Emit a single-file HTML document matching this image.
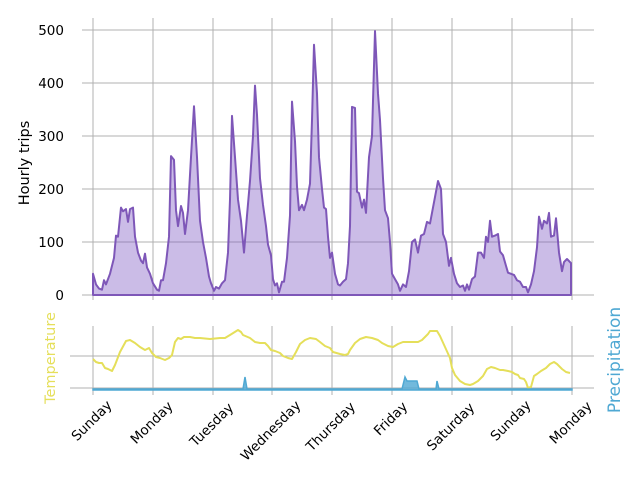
<!DOCTYPE html>
<html><head><style>body{margin:0;background:#fff}</style></head><body>
<svg width="640" height="480" xmlns="http://www.w3.org/2000/svg" font-family="DejaVu Sans, Liberation Sans, sans-serif">
<g stroke="#b0b0b0" stroke-width="1">
<line x1="82" y1="30" x2="594" y2="30"/><line x1="82" y1="83" x2="594" y2="83"/><line x1="82" y1="136" x2="594" y2="136"/><line x1="82" y1="189" x2="594" y2="189"/><line x1="82" y1="242" x2="594" y2="242"/><line x1="82" y1="295" x2="594" y2="295"/>
<line x1="93" y1="18" x2="93" y2="300"/><line x1="153" y1="18" x2="153" y2="300"/><line x1="213" y1="18" x2="213" y2="300"/><line x1="272" y1="18" x2="272" y2="300"/><line x1="332" y1="18" x2="332" y2="300"/><line x1="392" y1="18" x2="392" y2="300"/><line x1="452" y1="18" x2="452" y2="300"/><line x1="512" y1="18" x2="512" y2="300"/><line x1="572" y1="18" x2="572" y2="300"/>
<line x1="70" y1="356" x2="594" y2="356"/><line x1="70" y1="388" x2="594" y2="388"/>
<line x1="93" y1="326" x2="93" y2="395"/><line x1="153" y1="326" x2="153" y2="395"/><line x1="213" y1="326" x2="213" y2="395"/><line x1="272" y1="326" x2="272" y2="395"/><line x1="332" y1="326" x2="332" y2="395"/><line x1="392" y1="326" x2="392" y2="395"/><line x1="452" y1="326" x2="452" y2="395"/><line x1="512" y1="326" x2="512" y2="395"/><line x1="572" y1="326" x2="572" y2="395"/>
</g>
<g font-size="13.5" text-anchor="end" fill="#000">
<text x="64" y="35">500</text><text x="64" y="88">400</text><text x="64" y="141">300</text><text x="64" y="194">200</text><text x="64" y="247">100</text><text x="64" y="300">0</text>
</g>
<text transform="translate(29,163) rotate(-90)" font-size="14.5" text-anchor="middle">Hourly trips</text>
<text transform="translate(55,358) rotate(-90)" font-size="14.5" text-anchor="middle" fill="#e5df5a">Temperature</text>
<text transform="translate(620,360) rotate(-90)" font-size="17" text-anchor="middle" fill="#4fa8d3">Precipitation</text>
<g fill="rgba(126,87,194,0.4)" stroke="#7e57b8" stroke-width="2" stroke-linejoin="round">
<path d="M93,295 L93,273.8 96,284.4 99,288.6 102,289.7 104,280.2 106,284.4 110,273.8 114,257.9 116,235.6 118,236.7 121,207.6 123,211.3 126,209.1 128,221.9 130,209.1 133,207.6 135,236.7 138,252.6 141,260.6 143,263.2 145,253.7 147,267.4 150,273.8 153,283.3 157,289.7 159,290.8 161,280.2 163,280.2 166,263.2 169,236.7 171,156.1 174,159.9 176,210.2 178,226.1 181,206 183,212.9 185,234 188,210.2 191,157.2 194,106.3 197,157.2 200,220.8 203,242 206,257.9 209,276.5 211,283.3 214,290.8 216,287 219,288.6 222,283.3 225,280.2 228,252.6 230,199.6 232,115.9 235,157.2 238,199.6 241,220.8 244,252.6 247,215.5 250,181 253,136 255,85.6 257,114.8 260,178.4 263,204.9 266,226.1 268,244.6 271,255.3 273,279.1 275,285.5 277,283.3 279,292.4 282,281.8 284,281.8 287,257.9 290,215.5 292,101.6 295,141.3 297,186.4 299,210.2 302,204.9 304,210.2 307,199.6 310,183.7 312,120.1 314,44.8 317,93.6 319,157.2 322,189 324,207.6 326,209.1 328,236.7 330,257.9 332,252.6 335,273.8 338,284.4 340,285.5 343,281.8 346,279.1 348,263.2 350,226.1 352,106.9 355,107.9 357,191.7 359,193.2 362,207.6 364,199.6 366,212.9 369,157.2 372,136 375,31.1 378,93.6 380,120.1 383,178.4 385,210.2 388,218.2 390,242 392,273.8 395,279.1 398,284.4 400,290.8 403,284.4 406,287 409,271.2 412,242 415,239.4 418,252.6 421,235.6 424,234 427,221.9 430,223.5 433,207.6 436,191.7 438,181 441,189 443,234 446,242 449,265.9 451,257.9 454,273.8 457,283.3 460,287 463,285.5 465,290.8 467,284.4 469,289.7 472,279.1 475,276.5 478,252.6 481,252.6 484,257.9 486,236.7 488,242 490,220.8 492,236.7 495,235.6 498,234 500,251.5 503,255.3 506,265.9 508,272.7 511,273.8 514,274.9 517,280.2 520,281.8 523,287 526,287 528,292.4 531,284.4 534,271.2 537,247.3 539,216.6 542,228.8 544,220.8 547,223.5 549,212.9 551,236.7 554,235.6 556,218.2 559,252.6 562,271.2 564,262.1 567,259 570,262.1 571,263.2 L571,295 Z"/>
</g>
<polyline fill="none" stroke="#e5df5a" stroke-width="2" stroke-linejoin="round" points="93,359 96,362 99,363 102,363 105,368 108,369 112,371 115,365 120,352 126,341 130,340 135,343 140,347 145,350 149,348 152,353 156,357 160,358 165,360 169,358 172,355 175,342 178,338 181,339 184,337 190,337 195,338 200,338 210,339 220,338 225,338 230,335 238,330 241,332 243,335 250,338 255,342 260,343 265,343 268,346 271,350 275,351 280,353 283,356 288,358 292,359 296,352 300,344 305,340 310,338 316,339 320,342 325,346 330,348 333,352 340,354 345,355 348,354 350,350 355,343 360,339 366,337 372,338 378,340 382,343 388,346 393,347 398,344 403,342 408,342 413,342 418,342 422,340 428,334 430,331 437,331 440,336 445,347 450,358 452,368 455,375 460,381 465,384 470,385 473,384 478,381 483,376 487,369 491,367 495,368 500,370 503,370 508,371 512,372 515,374 518,375 520,378 524,379 526,382 528,388 531,387 534,376 537,374 541,371 546,368 550,364 554,362 557,364 562,369 566,372 570,373"/>
<path fill="rgba(79,168,211,0.8)" stroke="#4fa8d3" stroke-width="1.5" d="M93,389 L243,389 245,377 247,389 L402,389 405,377 407,381 417,381 419,389 L436,389 437,381 439,389 L572,389 572,390 93,390 Z"/>
<g font-size="13.5" text-anchor="middle" dominant-baseline="central">
<text transform="translate(92,421) rotate(-45)">Sunday</text>
<text transform="translate(152,423) rotate(-45)">Monday</text>
<text transform="translate(212,425) rotate(-45)">Tuesday</text>
<text transform="translate(271,431) rotate(-45)">Wednesday</text>
<text transform="translate(331,427) rotate(-45)">Thursday</text>
<text transform="translate(391,419) rotate(-45)">Friday</text>
<text transform="translate(451,427) rotate(-45)">Saturday</text>
<text transform="translate(511,421) rotate(-45)">Sunday</text>
<text transform="translate(571,423) rotate(-45)">Monday</text>
</g>
</svg>
</body></html>
